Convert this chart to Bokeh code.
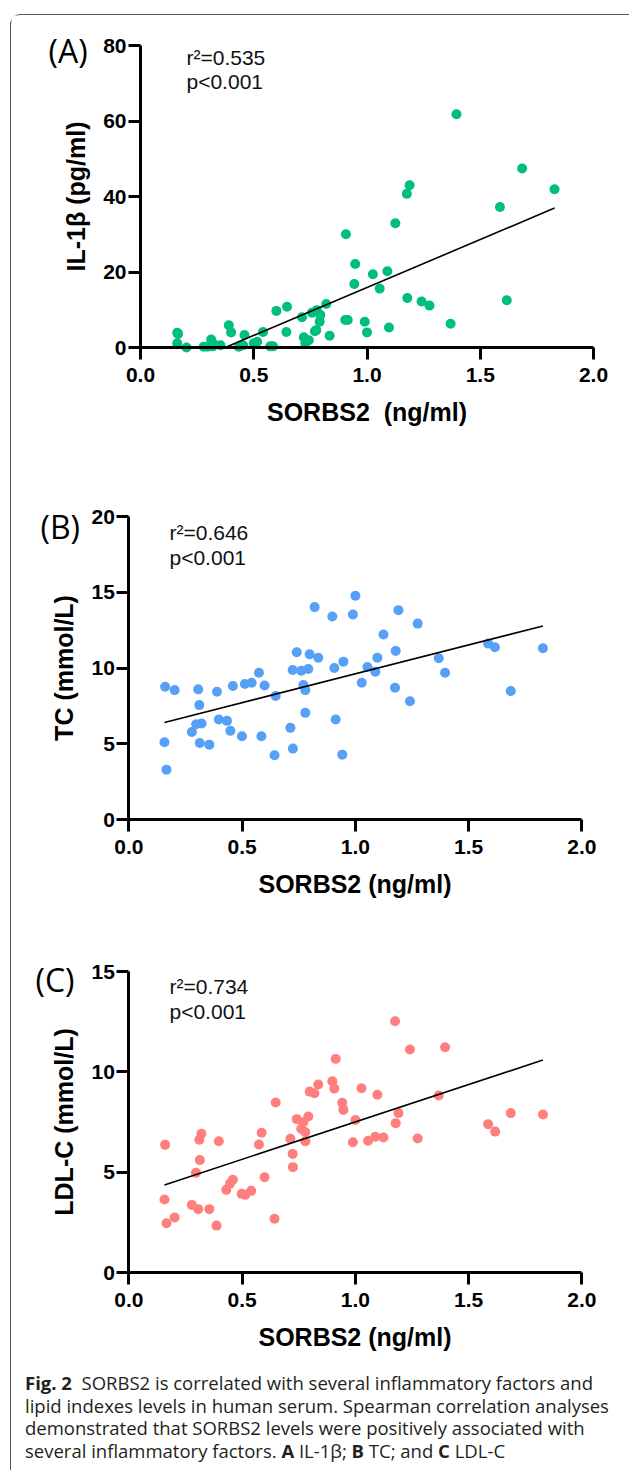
from bokeh.plotting import figure
from bokeh.layouts import column
from bokeh.models import Div, Label, FixedTicker, PrintfTickFormatter, Range1d, LinearAxis
from bokeh.embed import file_html
from bokeh.resources import INLINE

# ---------------- data ----------------
x_ticks = [0.0, 0.5, 1.0, 1.5, 2.0]

# Panel A: IL-1beta
a_x = [0.162, 0.166, 0.162, 0.203, 0.279, 0.297, 0.306, 0.312, 0.318, 0.320, 0.353,
       0.390, 0.400, 0.434, 0.453, 0.459, 0.500, 0.515, 0.541, 0.573, 0.585,
       0.600, 0.647, 0.644, 0.713, 0.721, 0.728, 0.743, 0.757, 0.779, 0.794,
       0.791, 0.776, 0.770, 0.820, 0.835, 0.904, 0.915, 0.944, 0.948, 0.907,
       0.990, 1.000, 1.026, 1.090, 1.056, 1.097, 1.125, 1.176, 1.188, 1.178,
       1.241, 1.276, 1.369, 1.395, 1.587, 1.617, 1.685, 1.828]
a_y = [3.9, 3.6, 1.1, 0.0, 0.2, 0.2, 0.4, 2.1, 0.3, 1.1, 0.6,
       5.9, 4.0, 0.2, 0.6, 3.3, 1.1, 1.5, 4.1, 0.3, 0.3,
       9.7, 10.8, 4.1, 8.0, 2.7, 1.1, 1.9, 9.2, 9.9, 8.6,
       6.8, 4.6, 4.3, 11.5, 3.1, 7.3, 7.3, 16.8, 22.1, 30.0,
       6.8, 4.0, 19.4, 20.2, 15.6, 5.3, 32.9, 40.7, 43.0, 13.1,
       12.2, 11.1, 6.3, 61.8, 37.2, 12.5, 47.4, 41.9]
a_fit = (25.4, -9.5)          # slope, intercept of the drawn regression line
a_stats = ["r²=0.535", "p<0.001"]
a_yticks = [0, 20, 40, 60, 80]
a_titles = ["SORBS2\u00a0 (ng/ml)", "IL-1β (pg/ml)"]

# Panel B: TC
b_x = [0.160, 0.202, 0.306, 0.311, 0.389, 0.459, 0.512, 0.542, 0.574, 0.599,
       0.648, 0.723, 0.761, 0.792, 0.741, 0.798, 0.836, 0.770, 0.779, 0.779,
       0.820, 0.898, 0.989, 1.000, 0.907, 0.947, 1.028, 1.053, 0.913, 0.942,
       0.713, 0.724, 0.643, 0.585, 0.499, 0.448, 0.397, 0.433, 0.321, 0.297,
       0.278, 0.313, 0.355, 0.157, 0.166, 1.190, 1.275, 1.124, 1.097, 1.178,
       1.088, 1.175, 1.241, 1.368, 1.396, 1.586, 1.616, 1.686, 1.828]
b_y = [8.76, 8.54, 8.59, 7.55, 8.43, 8.81, 8.94, 9.03, 9.69, 8.85,
       8.15, 9.87, 9.82, 9.93, 11.04, 10.90, 10.68, 8.87, 8.54, 7.04,
       14.02, 13.40, 13.53, 14.77, 10.00, 10.42, 9.03, 10.07, 6.60, 4.28,
       6.05, 4.68, 4.24, 5.50, 5.50, 5.85, 6.60, 6.51, 6.34, 6.29,
       5.78, 5.05, 4.94, 5.10, 3.29, 13.82, 12.93, 12.21, 10.68, 11.13,
       9.76, 8.70, 7.81, 10.64, 9.69, 11.61, 11.37, 8.48, 11.30]
b_fit = (3.81, 5.81)
b_stats = ["r²=0.646", "p<0.001"]
b_yticks = [0, 5, 10, 15, 20]
b_titles = ["SORBS2 (ng/ml)", "TC (mmol/L)"]

# Panel C: LDL-C
c_x = [0.160, 0.157, 0.166, 0.202, 0.278, 0.306, 0.355, 0.387, 0.296, 0.313,
       0.311, 0.320, 0.397, 0.430, 0.446, 0.459, 0.498, 0.514, 0.540, 0.599,
       0.574, 0.586, 0.643, 0.648, 0.713, 0.723, 0.724, 0.741, 0.761, 0.779,
       0.779, 0.792, 0.770, 0.798, 0.819, 0.836, 0.898, 0.907, 0.913, 0.942,
       0.947, 0.989, 1.000, 1.027, 1.175, 1.241, 1.396, 1.097, 1.190, 1.178,
       1.368, 1.056, 1.088, 1.124, 1.275, 1.586, 1.617, 1.686, 1.828]
c_y = [6.37, 3.65, 2.47, 2.75, 3.38, 3.17, 3.17, 2.35, 4.98, 5.61,
       6.62, 6.92, 6.55, 4.13, 4.43, 4.63, 3.93, 3.88, 4.08, 4.76,
       6.39, 6.97, 2.69, 8.48, 6.67, 5.92, 5.26, 7.65, 7.17, 7.00,
       6.55, 7.78, 7.50, 9.02, 8.94, 9.37, 9.54, 9.17, 10.65, 8.46,
       8.11, 6.50, 7.61, 9.19, 12.52, 11.12, 11.23, 8.86, 7.95, 7.45,
       8.83, 6.57, 6.77, 6.74, 6.69, 7.40, 7.03, 7.95, 7.88]
c_fit = (3.72, 3.79)
c_stats = ["r²=0.734", "p<0.001"]
c_yticks = [0, 5, 10, 15]
c_titles = ["SORBS2 (ng/ml)", "LDL-C (mmol/L)"]

caption_html = (
    "<b>Fig. 2</b>&nbsp; SORBS2 is correlated with several inflammatory factors and<br>"
    "lipid indexes levels in human serum. Spearman correlation analyses<br>"
    "demonstrated that SORBS2 levels were positively associated with<br>"
    "several inflammatory factors. <b>A</b> IL-1β; <b>B</b> TC; and <b>C</b> LDL-C"
)

# ---------------- layout (page pixel geometry) ----------------
OX, OY = 11, 15     # content origin inside the framed box
W = 610
PPX = 226.5
FONT = "Liberation Sans"


def panel(xs, ys, color, titles, yticks, fit, stats, tag,
          fig_top, fig_h, x0_page, y0_page, ppy, tag_page, stat_page):
    y_hi = yticks[-1]
    xs0 = -(x0_page - OX) / PPX
    ye = (y0_page - fig_top) / ppy
    p = figure(width=W, height=fig_h, output_backend="svg", toolbar_location=None,
               x_range=Range1d(xs0, xs0 + W / PPX),
               y_range=Range1d(ye - fig_h / ppy, ye),
               x_axis_location=None, y_axis_location=None, min_border=0)
    p.xgrid.visible = False
    p.ygrid.visible = False
    p.outline_line_color = None
    p.background_fill_color = "white"
    p.border_fill_color = "white"

    def style(ax):
        ax.axis_line_width = 3
        ax.major_tick_line_width = 3
        ax.major_tick_out = 12
        ax.major_tick_in = 0
        ax.minor_tick_out = 0
        ax.minor_tick_in = 0
        ax.major_label_text_font = FONT
        ax.major_label_text_font_style = "bold"
        ax.major_label_text_font_size = "21px"
        ax.major_label_text_color = "black"
        ax.axis_label_text_font = FONT
        ax.axis_label_text_font_style = "bold"
        ax.axis_label_text_font_size = "25px"
        ax.axis_label_text_color = "black"

    xa = LinearAxis(fixed_location=0, bounds=(0, 2.0), ticker=FixedTicker(ticks=x_ticks),
                    formatter=PrintfTickFormatter(format="%.1f"), axis_label=titles[0])
    style(xa)
    xa.major_label_standoff = 8
    xa.axis_label_standoff = 13
    p.add_layout(xa, "below")

    ya = LinearAxis(fixed_location=0, bounds=(0, y_hi), ticker=FixedTicker(ticks=yticks),
                    formatter=PrintfTickFormatter(format="%d"), axis_label=titles[1])
    style(ya)
    ya.major_label_standoff = 2
    ya.axis_label_standoff = 10
    p.add_layout(ya, "left")

    p.scatter(xs, ys, marker="circle", size=10, fill_color=color, line_color=None)

    slope, icpt = fit
    x_lo = max(min(xs), -icpt / slope)
    x_hi = max(xs)
    p.line([x_lo, x_hi], [slope * x_lo + icpt, slope * x_hi + icpt],
           line_color="black", line_width=1.6)

    def dx(px):
        return (px - x0_page) / PPX

    def dy(py):
        return (y0_page - py) / ppy

    p.add_layout(Label(x=dx(tag_page[0]), y=dy(tag_page[1]), text=tag, text_font="Open Sans",
                       text_font_size="32px", text_color="black",
                       text_baseline="middle", text_align="left"))
    for txt, by in zip(stats, stat_page[1:]):
        p.add_layout(Label(x=dx(stat_page[0]), y=dy(by), text=txt, text_font=FONT,
                           text_font_size="21px", text_color="#111",
                           text_baseline="alphabetic", text_align="left"))
    return p


pa = panel(a_x, a_y, "#00BF7D", a_titles, a_yticks, a_fit, a_stats, "(A)",
           15, 440, 140, 347, (347 - 45) / 80, (48, 50), (186, 57, 81))

pb = panel(b_x, b_y, "#56A0F7", b_titles, b_yticks, b_fit, b_stats, "(B)",
           455, 460, 128.4, 819, (819 - 516) / 20, (40, 526), (169, 532, 557))

pc = panel(c_x, c_y, "#FF7F7F", c_titles, c_yticks, c_fit, c_stats, "(C)",
           915, 445, 128.4, 1272.3, (1272.3 - 971) / 15, (35, 979), (169, 986, 1011))

cap = Div(text=caption_html, width=W, height=100,
          styles={"font-family": "'Open Sans'", "font-size": "18.5px", "line-height": "22.5px",
                  "color": "#231F20", "padding-top": "7px", "padding-left": "9px",
                  "white-space": "nowrap"})

layout = column(pa, pb, pc, cap, margin=(14, 0, 0, 10),
                styles={"border-left": "1px solid #555", "border-top": "1px solid #555",
                        "border-top-left-radius": "11px", "background": "white"})

open("out.html", "w").write(file_html(layout, INLINE))
